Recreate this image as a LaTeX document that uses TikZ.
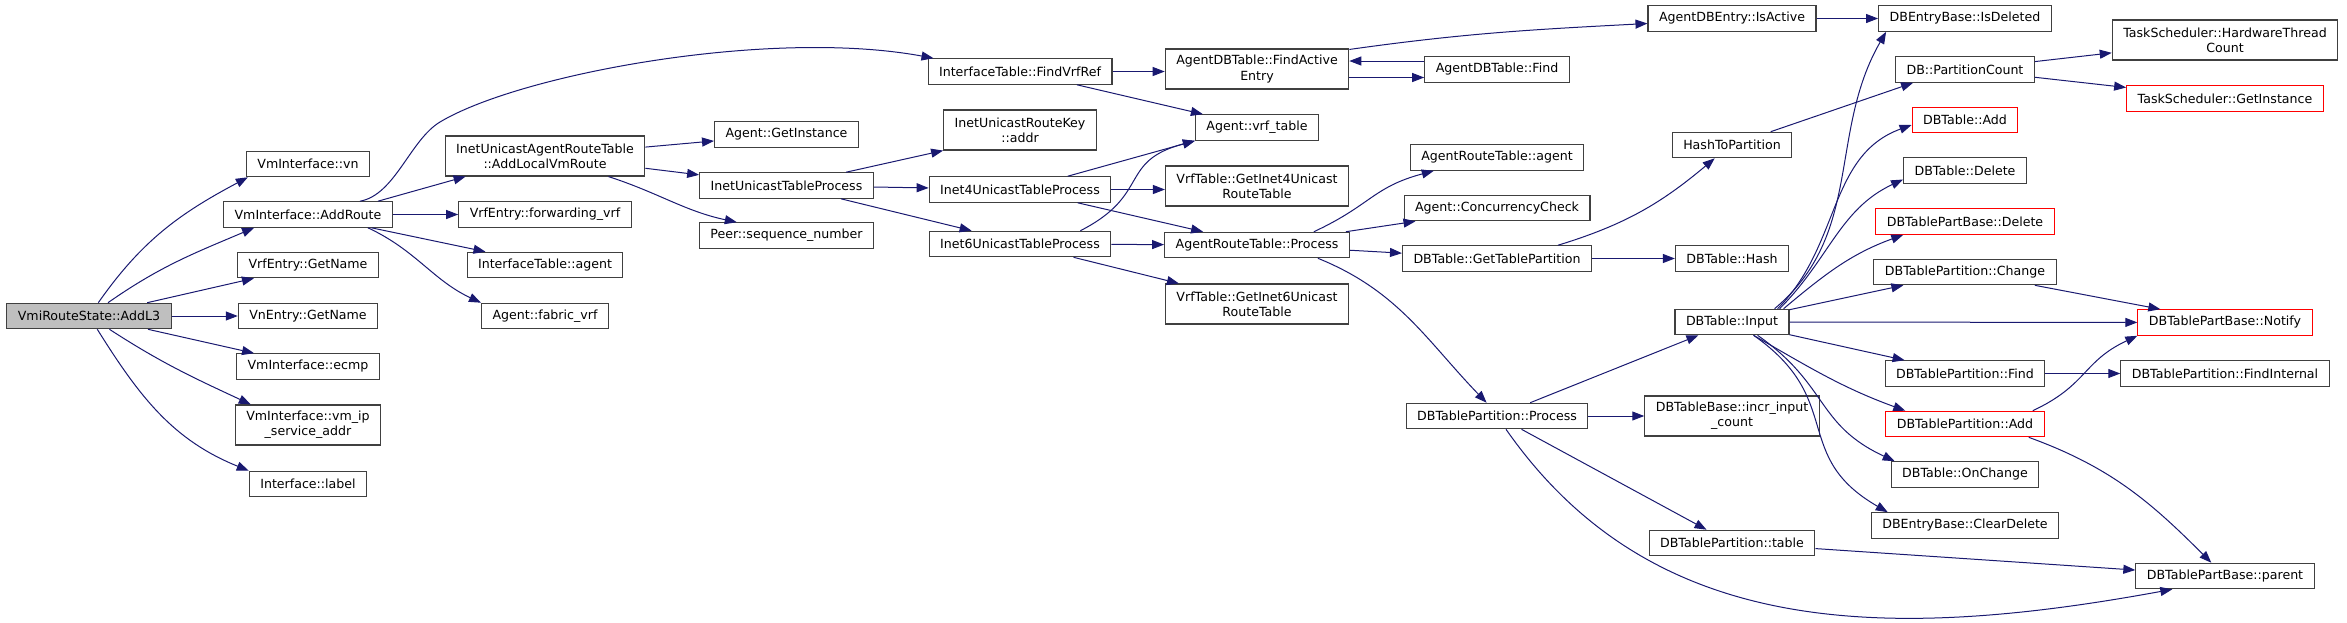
\documentclass[tikz,border=0pt]{standalone}
\usepackage{fontspec}
\setmainfont{DejaVu Sans}
\usepackage{tikz}
\usetikzlibrary{arrows.meta,calc}
\definecolor{edgec}{HTML}{191970}
\definecolor{boxc}{HTML}{404040}
\definecolor{rootbg}{HTML}{BFBFBF}
\definecolor{hotc}{HTML}{FF0000}
\tikzset{
  fn/.style={draw=boxc,line width=1.1pt,fill=white,inner xsep=11pt,inner ysep=3pt,
    minimum height=25.5pt,align=center,font=\fontsize{12.6}{15.3}\selectfont},
  fnii/.style={fn,minimum height=40pt},
  fnred/.style={fn,draw=hotc},
  fnroot/.style={fn,fill=rootbg},
  ar/.style={-{Triangle[length=12pt,width=9pt]},edgec,line width=1pt}
}
\begin{document}
\begin{tikzpicture}[x=1pt,y=-1pt]
\useasboundingbox (0,0) rectangle (2347,622);
% column 1 and 2
\node[fnroot] (root) at (89,316) {VmiRouteState::AddL3};
\node[fn] (vn) at (308,164) {VmInterface::vn};
\node[fn] (addroute) at (308,214.5) {VmInterface::AddRoute};
\node[fn] (vrfname) at (308,265) {VrfEntry::GetName};
\node[fn] (vnname) at (308,316) {VnEntry::GetName};
\node[fn] (ecmp) at (308,366.5) {VmInterface::ecmp};
\node[fnii] (vmip) at (308,425) {VmInterface::vm\_ip\\\_service\_addr};
\node[fn] (label) at (308,484) {Interface::label};
% column 3
\node[fnii] (alvr) at (545,156) {InetUnicastAgentRouteTable\\::AddLocalVmRoute};
\node[fn] (fwdvrf) at (545,214.5) {VrfEntry::forwarding\_vrf};
\node[fn] (itagent) at (545,265) {InterfaceTable::agent};
\node[fn] (fabric) at (545,316) {Agent::fabric\_vrf};
% column 4
\node[fn] (getinst) at (786.5,134.5) {Agent::GetInstance};
\node[fn] (itp) at (786.5,185.5) {InetUnicastTableProcess};
\node[fn] (peerseq) at (786.5,235.5) {Peer::sequence\_number};
% column 5
\node[fn] (findvrf) at (1020,71.5) {InterfaceTable::FindVrfRef};
\node[fnii] (keyaddr) at (1020,130) {InetUnicastRouteKey\\::addr};
\node[fn] (inet4) at (1020,189.5) {Inet4UnicastTableProcess};
\node[fn] (inet6) at (1020,244) {Inet6UnicastTableProcess};
% column 6
\node[fnii] (fae) at (1257,69) {AgentDBTable::FindActive\\Entry};
\node[fn] (vrftable) at (1257,127.5) {Agent::vrf\_table};
\node[fnii] (gi4) at (1257,186) {VrfTable::GetInet4Unicast\\RouteTable};
\node[fn] (artp) at (1257,245) {AgentRouteTable::Process};
\node[fnii] (gi6) at (1257,304) {VrfTable::GetInet6Unicast\\RouteTable};
% column 7
\node[fn] (adbfind) at (1497,69.5) {AgentDBTable::Find};
\node[fn] (artagent) at (1497,157.5) {AgentRouteTable::agent};
\node[fn] (conc) at (1497,208) {Agent::ConcurrencyCheck};
\node[fn] (gtp) at (1497,258.5) {DBTable::GetTablePartition};
\node[fn] (tpproc) at (1497,416) {DBTablePartition::Process};
% column 8
\node[fn] (isactive) at (1732,18.5) {AgentDBEntry::IsActive};
\node[fn] (h2p) at (1732,145) {HashToPartition};
\node[fn] (dbhash) at (1732,258.5) {DBTable::Hash};
\node[fn] (input) at (1732,322) {DBTable::Input};
\node[fnii] (incr) at (1732,416) {DBTableBase::incr\_input\\\_count};
\node[fn] (tptable) at (1732,543) {DBTablePartition::table};
% column 9
\node[fn] (isdel) at (1965,18.5) {DBEntryBase::IsDeleted};
\node[fn] (pcount) at (1965,69.5) {DB::PartitionCount};
\node[fnred] (dbadd) at (1965,120) {DBTable::Add};
\node[fn] (dbdel) at (1965,170.5) {DBTable::Delete};
\node[fnred] (tpbdel) at (1965,221.5) {DBTablePartBase::Delete};
\node[fn] (tpchange) at (1965,272) {DBTablePartition::Change};
\node[fn] (tpfind) at (1965,373.5) {DBTablePartition::Find};
\node[fnred] (tpadd) at (1965,424) {DBTablePartition::Add};
\node[fn] (onchange) at (1965,474.5) {DBTable::OnChange};
\node[fn] (cleardel) at (1965,525.5) {DBEntryBase::ClearDelete};
% column 10
\node[fnii] (hwtc) at (2225,40) {TaskScheduler::HardwareThread\\Count};
\node[fnred] (tsinst) at (2225,98.5) {TaskScheduler::GetInstance};
\node[fnred] (notify) at (2225,322.5) {DBTablePartBase::Notify};
\node[fn] (findint) at (2225,373.5) {DBTablePartition::FindInternal};
\node[fn] (parent) at (2225,576) {DBTablePartBase::parent};

% calls of AddL3
\draw[ar] (root) to[out=55,in=208] ([xshift=2pt]vn.south west);
\draw[ar] (root) to[out=35,in=203] ([xshift=31pt]addroute.south west);
\draw[ar] (root) -- ([xshift=17pt]vrfname.south west);
\draw[ar] (root) -- (vnname);
\draw[ar] (root) -- ([xshift=18pt]ecmp.north west);
\draw[ar] (root) to[out=-33,in=155] ([xshift=16pt]vmip.north west);
\draw[ar] (root) to[out=-58,in=158] (label.north west);
% calls of AddRoute
\draw[ar] ([xshift=-33pt]addroute.north east) .. controls (395,195) and (410,140) .. (440,122)
  .. controls (520,74) and (770,28) .. ([xshift=6pt]findvrf.north west);
\draw[ar] ([xshift=-15pt]addroute.north east) -- ([xshift=21pt]alvr.south west);
\draw[ar] (addroute) -- (fwdvrf);
\draw[ar] (addroute) -- ([xshift=19pt]itagent.north west);
\draw[ar] ([xshift=-25pt]addroute.south east) to[out=-25,in=155] (fabric.north west);
% AddLocalVmRoute
\draw[ar] (alvr) -- (getinst);
\draw[ar] (alvr) -- (itp);
\draw[ar] ([xshift=-37pt]alvr.south east) to[out=-18,in=168] ([xshift=38pt]peerseq.north west);
\draw[ar] (itp) -- (keyaddr.south west);
\draw[ar] (itp) -- (inet4);
\draw[ar] (itp) -- ([xshift=43pt]inet6.north west);
% FindVrfRef, Inet4, Inet6
\draw[ar] (findvrf) -- (findvrf -| fae.west);
\draw[ar] (findvrf) -- ([xshift=8pt]vrftable.north west);
\draw[ar] (inet4) -- (vrftable.south west);
\draw[ar] (inet4) -- (inet4 -| gi4.west);
\draw[ar] (inet4) -- ([xshift=39pt]artp.north west);
\draw[ar] ([xshift=-31pt]inet6.north east) to[out=27,in=195,looseness=1.4] (vrftable.south west);
\draw[ar] (inet6) -- (artp);
\draw[ar] (inet6) -- ([xshift=14pt]gi6.north west);
% FindActiveEntry
\draw[ar] ([yshift=-1pt]fae.north east) to[out=8,in=183] ([yshift=-5pt]isactive.west);
\draw[ar] ([yshift=-8.5pt]fae.east) -- ([yshift=-8.5pt]fae.east -| adbfind.west);
\draw[ar] ([yshift=8.5pt]adbfind.west) -- ([yshift=8.5pt]adbfind.west -| fae.east);
% AgentRouteTable::Process
\draw[ar] ([xshift=-36pt]artp.north east) to[out=25,in=195,looseness=1.2] ([xshift=24pt]artagent.south west);
\draw[ar] (artp) -- ([xshift=12pt]conc.south west);
\draw[ar] (artp) -- (gtp);
\draw[ar] ([xshift=-32pt]artp.south east) to[out=-22,in=134] ([xshift=81pt]tpproc.north west);
\draw[ar] ([xshift=-34pt]gtp.north east) to[out=17,in=220] ([xshift=43pt]h2p.south west);
\draw[ar] (gtp) -- (dbhash);
\draw[ar] (h2p) -- ([xshift=18pt]pcount.south west);
\draw[ar] (pcount) -- (hwtc);
\draw[ar] (pcount) -- (tsinst);
\draw[ar] (isactive) -- (isdel);
% DBTablePartition::Process
\draw[ar] (tpproc) -- ([xshift=24pt]input.south west);
\draw[ar] (tpproc) -- (incr);
\draw[ar] (tpproc) -- ([xshift=58pt]tptable.north west);
\draw[ar] ([xshift=9pt]tpproc.south) .. controls (1649,634) and (1875,644) .. ([xshift=37pt]parent.south west);
% DBTable::Input
\draw[ar] ([xshift=-15pt]input.north east) to[out=40,in=240] ([xshift=8pt]isdel.south west);
\draw[ar] ([xshift=-12pt]input.north east) to[out=45,in=200] ([yshift=-5pt]dbadd.west);
\draw[ar] ([xshift=-10pt]input.north east) to[out=45,in=205] ([yshift=-9pt]dbdel.west);
\draw[ar] ([xshift=-6pt]input.north east) to[out=40,in=200] ([xshift=28pt]tpbdel.south west);
\draw[ar] (input) -- ([xshift=30pt]tpchange.south west);
\draw[ar] (input) -- (notify);
\draw[ar] (input) -- ([xshift=20pt]tpfind.north west);
\draw[ar] ([xshift=-36pt]input.south east) to[out=-30,in=160] ([xshift=20pt]tpadd.north west);
\draw[ar] ([xshift=-32pt]input.south east) to[out=-35,in=155,looseness=1.2] ([xshift=4pt]onchange.north west);
\draw[ar] ([xshift=-36pt]input.south east) to[out=-35,in=150,looseness=1.3] ([xshift=17pt]cleardel.north west);
% the rest
\draw[ar] (tpchange) -- ([xshift=23pt]notify.north west);
\draw[ar] (tpfind) -- (findint);
\draw[ar] ([xshift=-12pt]tpadd.north east) to[out=25,in=205,looseness=1.2] (notify.south west);
\draw[ar] ([xshift=-16pt]tpadd.south east) to[out=-20,in=135] ([xshift=76pt]parent.north west);
\draw[ar] (tptable) -- (parent);
\end{tikzpicture}
\end{document}
